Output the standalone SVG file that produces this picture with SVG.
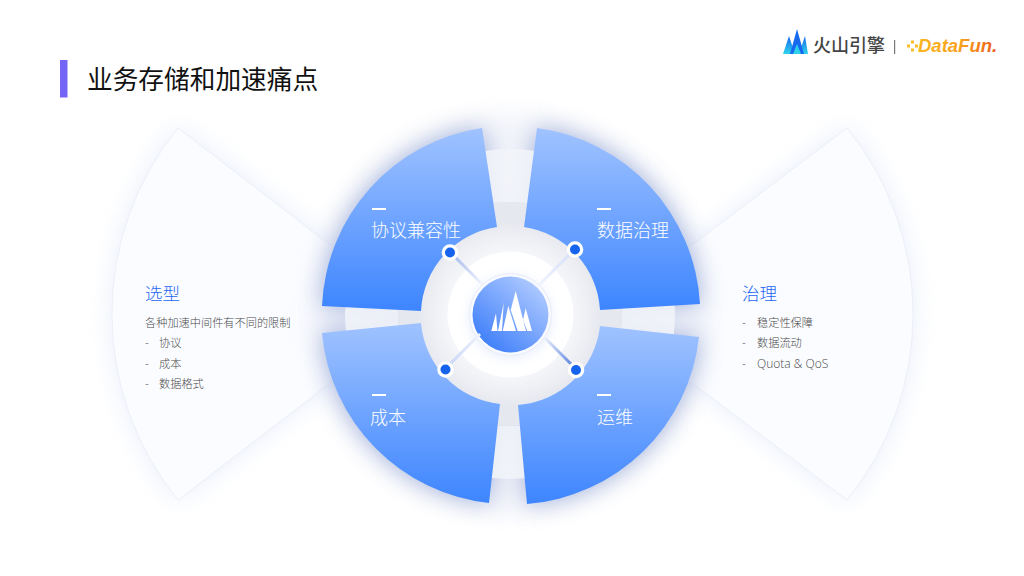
<svg xmlns="http://www.w3.org/2000/svg" width="1024" height="576" viewBox="0 0 1024 576">
<style>
text{font-family:"Noto Sans CJK SC","Noto Sans",sans-serif}
.lab{font-size:18px;fill:#fff;font-weight:300}
.dash{fill:#fff}
.head{font-size:17.500px;fill:#2465f5;font-weight:300}
.body{font-size:11.200px;fill:#4a4a4a;font-weight:300}
.latin{font-family:"Open Sans","Noto Sans",sans-serif;font-size:12px;fill:#4a4a4a;font-weight:300}
.fan{fill:#fbfcff;stroke:#e6e9f2;stroke-width:.7}
.dotw{fill:#fff}
.dotb{fill:#1664ee}
.peak{fill:#fff}
</style>
<defs>
<linearGradient id="gs" x1="0" y1="0" x2="0" y2="1"><stop offset="0" stop-color="#a0c3ff"/><stop offset="1" stop-color="#3d85ff"/></linearGradient>
<linearGradient id="gc" x1="0.85" y1="0.1" x2="0.15" y2="0.9"><stop offset="0" stop-color="#aec9ff"/><stop offset="1" stop-color="#3f7ffa"/></linearGradient>
<linearGradient id="gm" x1="0" y1="0" x2="0" y2="1"><stop offset="0" stop-color="#1565ee"/><stop offset="1" stop-color="#2ed3ea"/></linearGradient>
<linearGradient id="c1" gradientUnits="userSpaceOnUse" x1="450" y1="252" x2="482" y2="284"><stop offset="0" stop-color="#9db3ea"/><stop offset="1" stop-color="#f2f5fd"/></linearGradient>
<linearGradient id="c2" gradientUnits="userSpaceOnUse" x1="575" y1="249" x2="538" y2="286"><stop offset="0" stop-color="#d3defa"/><stop offset="1" stop-color="#f2f5fe"/></linearGradient>
<linearGradient id="c3" gradientUnits="userSpaceOnUse" x1="445" y1="369" x2="480" y2="334"><stop offset="0" stop-color="#c3d1f5"/><stop offset="1" stop-color="#f0f3fc"/></linearGradient>
<linearGradient id="c4" gradientUnits="userSpaceOnUse" x1="576" y1="369" x2="545" y2="338"><stop offset="0" stop-color="#4f78dc"/><stop offset="1" stop-color="#e9eefb"/></linearGradient>
<linearGradient id="df" x1="0" y1="0" x2="1" y2="0"><stop offset="0" stop-color="#f9b51e"/><stop offset=".55" stop-color="#f7a01c"/><stop offset="1" stop-color="#ee5a18"/></linearGradient>
<radialGradient id="disc" gradientUnits="userSpaceOnUse" cx="510" cy="314" r="112"><stop offset=".56" stop-color="#f5f6f9"/><stop offset=".72" stop-color="#eceef3"/><stop offset=".82" stop-color="#e6e8ef"/><stop offset="1" stop-color="#e6e8ef"/></radialGradient>
<filter id="b14" x="-30%" y="-30%" width="160%" height="160%"><feGaussianBlur stdDeviation="12"/></filter>
<filter id="b8" x="-30%" y="-30%" width="160%" height="160%"><feGaussianBlur stdDeviation="5"/></filter>
</defs>
<rect width="1024" height="576" fill="#fff"/>

<g id="title">
<rect x="60" y="60" width="7.500" height="37.500" fill="#7465f7"/>
<text x="87" y="89" font-size="25.700" fill="#111" font-weight="400">业务存储和加速痛点</text>
</g>

<g id="logo">
<polygon points="789,36 783,54 795,54" fill="url(#gm)"/>
<polygon points="805,36 799,54 808,54" fill="url(#gm)"/>
<polygon points="797,29 790,54 804,54" fill="#1769ee"/>
<polygon points="797,44 793,54 801,54" fill="#2ed3ea"/>
<text x="813" y="52" font-size="18" font-weight="500" fill="#444">火山引擎</text>
<rect x="894" y="40" width="1.200" height="14" fill="#777"/>
<g fill="#f8bd2c"><rect x="907" y="44.500" width="3" height="3"/><rect x="911" y="40.500" width="3" height="3"/><rect x="911" y="48.500" width="3" height="3"/><rect x="915" y="44.500" width="3" height="3"/></g>
<text x="918" y="52" font-size="18.500" font-weight="700" font-style="italic" fill="url(#df)" style="font-family:'Liberation Sans',sans-serif">DataFun.</text>
</g>

<g id="fan-left">
<path d="M178 128A295 295 0 0 0 178 500L420 314Z" fill="#c6d3f6" opacity=".4" filter="url(#b14)"/>
<path class="fan" d="M178 128A295 295 0 0 0 178 500L420 314Z"/>
<text class="head" x="145" y="299.500">选型</text>
<text class="body" x="145" y="327">各种加速中间件有不同的限制</text>
<text class="body" x="145" y="347">-</text><text class="body" x="159" y="347">协议</text>
<text class="body" x="145" y="368">-</text><text class="body" x="159" y="368">成本</text>
<text class="body" x="145" y="388">-</text><text class="body" x="159" y="388">数据格式</text>
</g>
<g id="fan-right">
<path d="M847 128A295 295 0 0 1 847 500L601 314Z" fill="#c6d3f6" opacity=".4" filter="url(#b14)"/>
<path class="fan" d="M847 128A295 295 0 0 1 847 500L601 314Z"/>
<text class="head" x="742" y="299.500">治理</text>
<text class="body" x="742" y="327">-</text><text class="body" x="757" y="327">稳定性保障</text>
<text class="body" x="742" y="347">-</text><text class="body" x="757" y="347">数据流动</text>
<text class="body" x="742" y="368">-</text><text class="latin" x="757" y="367.500">Quota &amp; QoS</text>
</g>

<g id="hub-back">
<circle cx="510" cy="314" r="198" fill="#eef0f8" opacity=".8" filter="url(#b14)"/>
<g id="shadows" filter="url(#b14)" fill="#7f94cc" opacity=".7">
<path d="M482 128A188 188 0 0 0 322 306L421 311A89 89 0 0 1 497 227Z"/>
<path d="M537 128A188 188 0 0 1 700 304L600 310A89 89 0 0 0 524 227Z"/>
<path d="M322 333A188 188 0 0 0 489 503L500 404A89 89 0 0 1 421 323Z"/>
<path d="M699 337A188 188 0 0 1 527 504L518 405A89 89 0 0 0 600 326Z"/>
</g>
<path d="M510 149a165 165 0 1 0 .01 0ZM510 202a112 112 0 1 1-.01 0Z" fill="#f2f4f9" fill-rule="evenodd" opacity=".85"/>
<circle cx="510" cy="314" r="112" fill="url(#disc)"/>
</g>

<g id="sector-tl">
<path fill="url(#gs)" d="M482 128A188 188 0 0 0 322 306L421 311A89 89 0 0 1 497 227Z"/>
<rect class="dash" x="372" y="208" width="14" height="2"/>
<text class="lab" x="371" y="236.500">协议兼容性</text>
</g>
<g id="sector-tr">
<path fill="url(#gs)" d="M537 128A188 188 0 0 1 700 304L600 310A89 89 0 0 0 524 227Z"/>
<rect class="dash" x="597" y="208" width="14" height="2"/>
<text class="lab" x="597" y="236.500">数据治理</text>
</g>
<g id="sector-bl">
<path fill="url(#gs)" d="M322 333A188 188 0 0 0 489 503L500 404A89 89 0 0 1 421 323Z"/>
<rect class="dash" x="372" y="394" width="14" height="2"/>
<text class="lab" x="370" y="423.500">成本</text>
</g>
<g id="sector-br">
<path fill="url(#gs)" d="M699 337A188 188 0 0 1 527 504L518 405A89 89 0 0 0 600 326Z"/>
<rect class="dash" x="597" y="394" width="14" height="2"/>
<text class="lab" x="597" y="423.500">运维</text>
</g>

<g id="hub-center">
<circle cx="510.500" cy="314.500" r="63" fill="#fff"/>
<circle cx="510.500" cy="317" r="43" fill="#c3d3f8" opacity=".3" filter="url(#b8)"/>
<circle cx="510.500" cy="314.500" r="41" fill="#f8faff" stroke="#e7ecf8" stroke-width="1"/>
<circle cx="510.500" cy="314.500" r="38" fill="url(#gc)"/>
<polygon class="peak" points="496,313.300 491.300,331 497.500,331"/>
<polygon class="peak" points="503.700,302.700 498,331 502,331"/>
<polygon class="peak" points="508.300,306 502.700,331 516,331"/>
<polygon class="peak" points="515.700,291 510.700,310 517.700,331 526,331"/>
<polygon class="peak" points="525.700,308.300 523,320 527.300,331 532,331"/>
</g>

<g id="connectors" fill="none" stroke-width="3">
<line x1="450" y1="252" x2="482" y2="284" stroke="url(#c1)"/>
<line x1="575" y1="249" x2="538" y2="286" stroke="url(#c2)"/>
<line x1="445" y1="369" x2="480" y2="334" stroke="url(#c3)"/>
<line x1="576" y1="369" x2="545" y2="338" stroke="url(#c4)"/>
</g>

<g id="dot-tl"><circle class="dotw" cx="450" cy="252.500" r="8.300"/><circle class="dotb" cx="450" cy="252.500" r="5"/></g>
<g id="dot-tr"><circle class="dotw" cx="575" cy="249.500" r="8.300"/><circle class="dotb" cx="575" cy="249.500" r="5"/></g>
<g id="dot-bl"><circle class="dotw" cx="445.500" cy="369.500" r="8.300"/><circle class="dotb" cx="445.500" cy="369.500" r="5"/></g>
<g id="dot-br"><circle class="dotw" cx="576" cy="370" r="8.300"/><circle class="dotb" cx="576" cy="370" r="5"/></g>
</svg>
